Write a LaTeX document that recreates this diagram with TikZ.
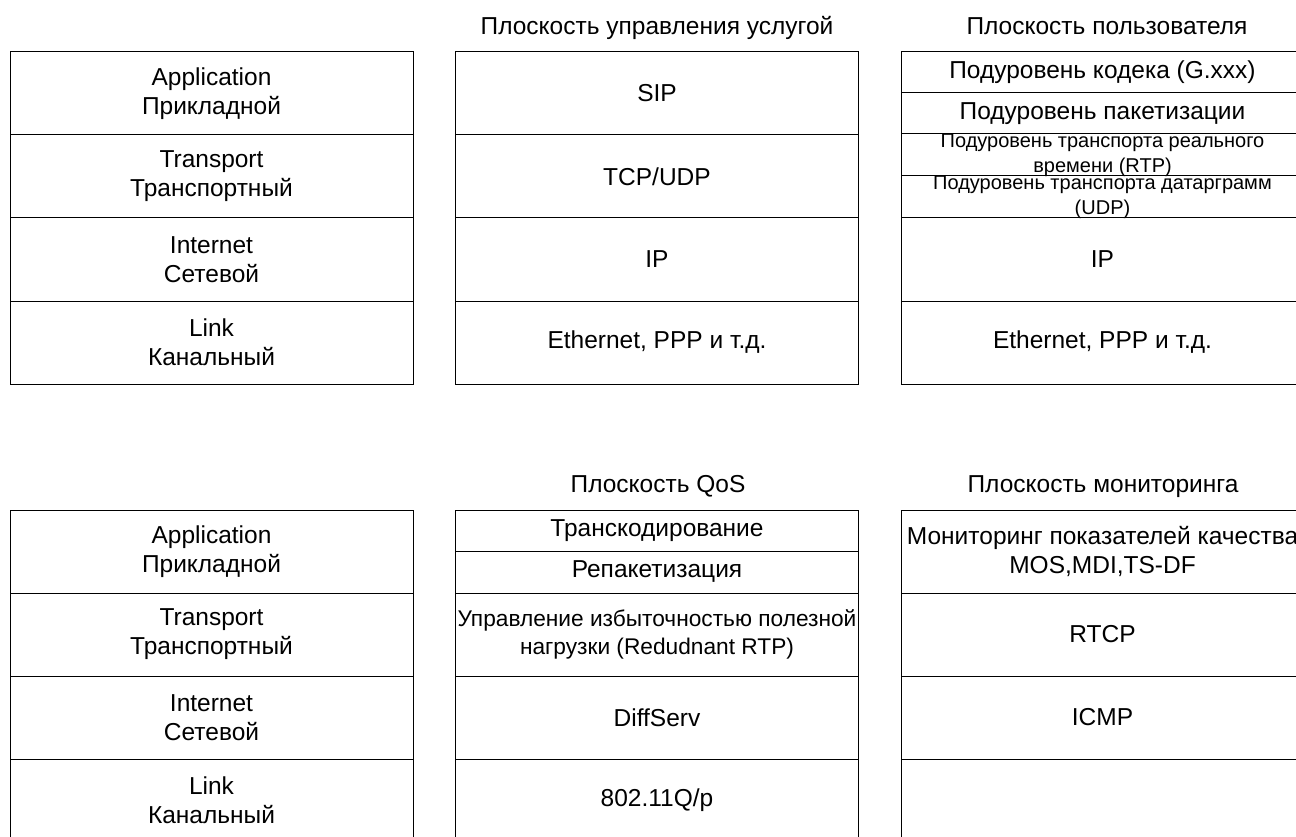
\documentclass[tikz,border=0pt]{standalone}
\usepackage{fontspec}
\setmainfont{Liberation Sans}
\usepackage{tikz}

\begin{document}
\begin{tikzpicture}[x=1pt, y=-1pt]
    \def\off{458}

    % --- DEFINE STYLES ---
    % Style for one layer of a stack
    \tikzstyle{layer} = [rectangle, draw, line width=1pt, inner sep=0pt, minimum width=403pt, align=center, font=\fontsize{24.5}{29}\selectfont]
    % Style for a text laid over an empty layer
    \tikzstyle{overtext} = [inner sep=0pt, align=center, font=\fontsize{22.7}{28}\selectfont]
    % Style for the small two-line sublayer texts
    \tikzstyle{subtext} = [overtext, font=\fontsize{20}{25}\selectfont]
    % Style for the plane titles
    \tikzstyle{plane} = [anchor=base, inner sep=0pt, font=\fontsize{24.5}{29}\selectfont]

    \useasboundingbox (0,0) rectangle (1296,837);
    \clip (0,0) rectangle (1296,837);

    % --- MODEL LAYERS, TOP AND BOTTOM ---
    \foreach \o/\p in {0/t, \off/b} {
        \foreach \i/\txt in {0/{Application\\Прикладной}, 1/{Transport\\Транспортный}, 2/{Internet\\Сетевой}, 3/{Link\\Канальный}} {
            \node[layer, minimum height=83pt] (\p-osi-\i) at (211.5, {93.5+83*\i+\o}) {\txt};
        }
    }

    % --- SERVICE CONTROL PLANE ---
    \node[plane] (ctrl-title) at (657, 35) {Плоскость управления услугой};
    \foreach \i/\name/\txt in {0/sip/SIP, 1/tcp/{TCP/UDP}, 2/c-ip/IP, 3/c-eth/{Ethernet, PPP и т.д.}} {
        \node[layer, minimum height=83pt] (\name) at (657, {93.5+83*\i}) {\txt};
    }

    % --- USER PLANE ---
    \node[plane] (user-title) at (1107, 35) {Плоскость пользователя};
    \node[layer, minimum height=41pt] (codec) at (1102.5, 72.5) {Подуровень кодека (G.xxx)};
    \node[layer, minimum height=41pt] (pack) at (1102.5, 113.5) {Подуровень пакетизации};
    \node[layer, minimum height=42pt] (rtp) at (1102.5, 155) {};
    \node[subtext] (rtp-txt) at (rtp) {Подуровень транспорта реального\\времени (RTP)};
    \node[layer, minimum height=42pt] (udp) at (1102.5, 197) {};
    \node[subtext] (udp-txt) at (udp) {Подуровень транспорта датарграмм\\(UDP)};
    \node[layer, minimum height=83pt] (u-ip) at (1102.5, 259.5) {IP};
    \node[layer, minimum height=83pt] (u-eth) at (1102.5, 342.5) {Ethernet, PPP и т.д.};

    % --- QOS PLANE ---
    \node[plane] (qos-title) at (658, 492) {Плоскость QoS};
    \node[layer, minimum height=41pt] (transcode) at (657, 530.5) {Транскодирование};
    \node[layer, minimum height=42pt] (repack) at (657, 572) {Репакетизация};
    \node[layer, minimum height=83pt] (redund) at (657, 634.5) {};
    \node[overtext] (redund-txt) at (redund) {Управление избыточностью полезной\\нагрузки (Redudnant RTP)};
    \foreach \i/\name/\txt in {2/diffserv/DiffServ, 3/dotq/{802.11Q/p}} {
        \node[layer, minimum height=83pt] (\name) at (657, {551.5+83*\i}) {\txt};
    }

    % --- MONITORING PLANE ---
    \node[plane] (mon-title) at (1103, 492) {Плоскость мониторинга};
    \foreach \i/\name/\txt in {0/quality/{Мониторинг показателей качества\\MOS,MDI,TS-DF}, 1/rtcp/RTCP, 2/icmp/ICMP, 3/m-link/{}} {
        \node[layer, minimum height=83pt] (\name) at (1102.5, {551.5+83*\i}) {\txt};
    }
\end{tikzpicture}
\end{document}
